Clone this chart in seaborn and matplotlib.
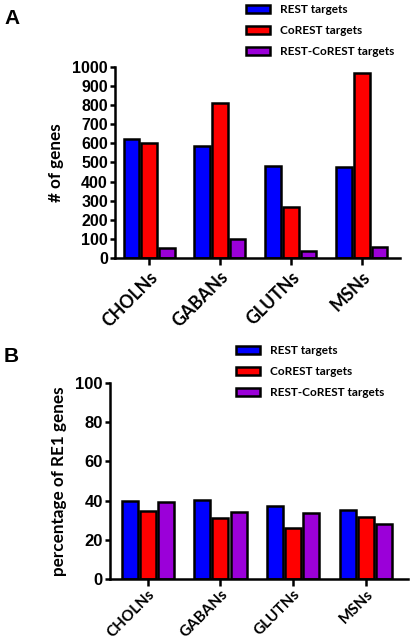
import matplotlib
matplotlib.use("Agg")
import matplotlib.pyplot as plt
import seaborn as sns
import pandas as pd
from matplotlib.patches import Patch

sns.set_theme(style="ticks")
plt.rcParams['font.family'] = ['Liberation Sans', 'DejaVu Sans']
plt.rcParams['text.color'] = 'black'
plt.rcParams['axes.labelcolor'] = 'black'
plt.rcParams['xtick.color'] = 'black'
plt.rcParams['ytick.color'] = 'black'

categories = ["CHOLNs", "GABANs", "GLUTNs", "MSNs"]
series = ["REST targets", "CoREST targets", "REST-CoREST targets"]
genes_rest = [623, 588, 482, 479]
genes_corest = [602, 812, 265, 967]
genes_both = [54, 98, 37, 58]
pct_rest = [39.6, 40.3, 37.4, 35.2]
pct_corest = [34.5, 31.0, 26.2, 31.6]
pct_both = [39.1, 34.4, 33.7, 27.9]
colors = ["#0000FF", "#FF0000", "#9B00D9"]

def make_df(a, b, c):
    rows = []
    for s, vals in zip(series, [a, b, c]):
        for cat, v in zip(categories, vals):
            rows.append({"cat": cat, "series": s, "value": v})
    return pd.DataFrame(rows)

dfA = make_df(genes_rest, genes_corest, genes_both)
dfB = make_df(pct_rest, pct_corest, pct_both)

W, H = 413, 642
fig = plt.figure(figsize=(W / 100, H / 100), dpi=100)

def px(l, t, r, b):
    return [l / W, 1 - b / H, (r - l) / W, (b - t) / H]

axA = fig.add_axes(px(115, 67, 400, 258))
axB = fig.add_axes(px(110, 383, 408, 579))

lab_font = ['Lato', 'DejaVu Sans']

def style(ax, df, ylim, yticks, ylabel, xlim, ysize, xsize, xpad):
    sns.barplot(data=df, x="cat", y="value", hue="series", palette=colors,
                ax=ax, width=0.75, gap=0.12, edgecolor="black", linewidth=1.8,
                legend=False, errorbar=None, saturation=1)
    ax.set_ylim(*ylim)
    ax.set_xlim(*xlim)
    ax.set_yticks(yticks)
    ax.set_xlabel("")
    ax.set_ylabel(ylabel, fontsize=12.3, fontweight="bold", family=lab_font, labelpad=6)
    for s in ["top", "right"]:
        ax.spines[s].set_visible(False)
    for s in ["left", "bottom"]:
        ax.spines[s].set_linewidth(1.8)
        ax.spines[s].set_color("black")
    ax.spines["left"].set_bounds(ylim[0], yticks[-1])
    ax.tick_params(axis="y", width=1.8, length=3.6, color="black", direction="out",
                   pad=1.5, labelsize=ysize)
    ax.tick_params(axis="x", width=1.8, length=5, color="black", direction="out", pad=xpad)
    for t in ax.get_yticklabels():
        t.set_fontweight("bold")
    ax.set_xticks(range(len(categories)))
    ax.set_xticklabels(categories, rotation=45, ha="right", rotation_mode="anchor",
                       fontsize=xsize, fontweight="bold", family=lab_font)
    ax.set_facecolor("white")
    ax.grid(False)

style(axA, dfA, (0, 1000), list(range(0, 1001, 100)), "# of genes", (-0.48, 3.54), 11.5, 12.8, 2.5)
style(axB, dfB, (0, 100), [0, 20, 40, 60, 80, 100], "percentage of RE1 genes", (-0.52, 3.58), 12, 11, 1.2)

handles = [Patch(facecolor=c, edgecolor="black", linewidth=1.8) for c in colors]
for y0, x0 in [(4, 246), (345, 236)]:
    fig.legend(handles, series, loc="upper left",
               bbox_to_anchor=(x0 / W, 1 - y0 / H), frameon=False,
               prop={'family': lab_font, 'weight': 'bold', 'size': 8.5},
               handlelength=2.0, handleheight=0.75, labelspacing=0.85,
               handletextpad=0.9, borderaxespad=0, borderpad=0)

fig.text(4 / W, 1 - 24 / H, "A", fontsize=15, fontweight="bold")
fig.text(4 / W, 1 - 362 / H, "B", fontsize=15, fontweight="bold")

fig.savefig("out.png", dpi=100, facecolor="white")
